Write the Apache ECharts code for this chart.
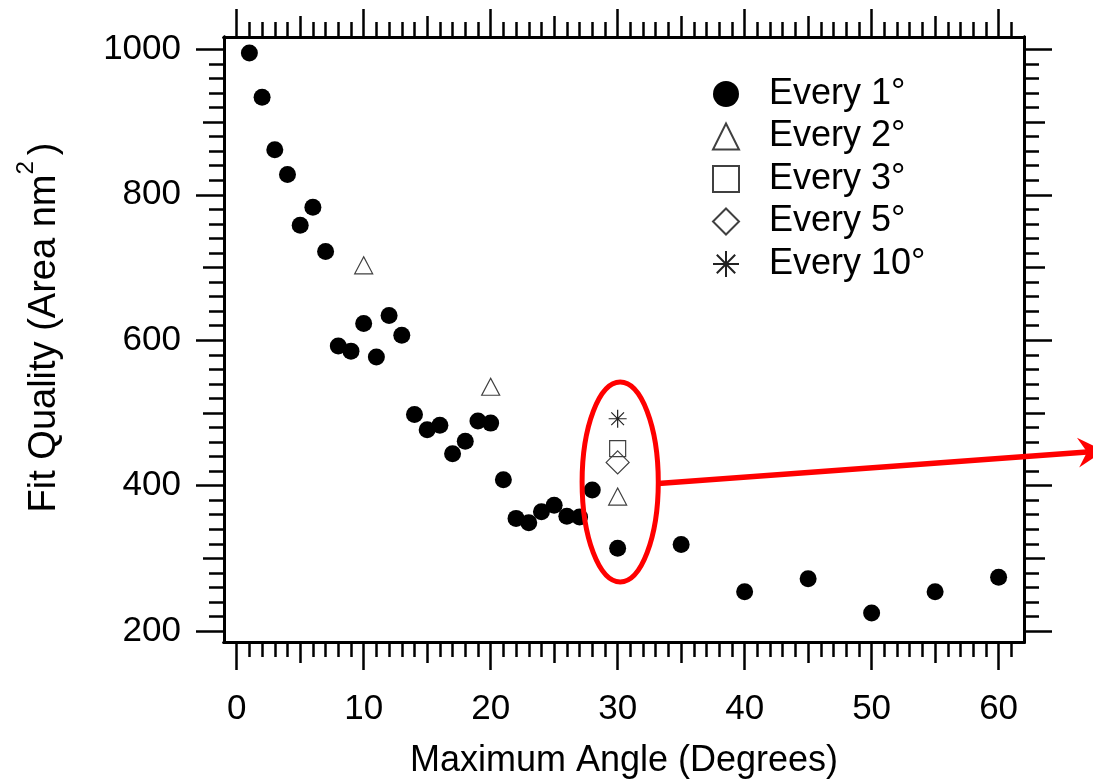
<!DOCTYPE html>
<html><head><meta charset="utf-8">
<script src="https://cdn.jsdelivr.net/npm/echarts@6/dist/echarts.min.js"></script>
<style>html,body{margin:0;padding:0;background:#fff}#c{width:1093px;height:779px}</style>
</head><body><div id="c"></div>
<script>
// ---- data ----
const every1X = [1,2,3,4,5,6,7,8,9,10,11,12,13,14,15,16,17,18,19,20,21,22,23,24,25,26,27,28,30,35,40,45,50,55,60];
const every1Y = [995,934,862,828,758,783,722,592,585,623,577,634,607,498,477,483,444,461,489,486,408,355,349,364,373,358,357,394,314,319,254,272,225,254,274];
const every2X = [10,20,30];
const every2Y = [703,536,385];
const every3X = [30];
const every3Y = [451];
const every5X = [30];
const every5Y = [432];
const every10X = [30];
const every10Y = [492];
const seriesNames = ['Every 1°','Every 2°','Every 3°','Every 5°','Every 10°'];
const xLabelTicks = [0,10,20,30,40,50,60];
const xMidTicks = [5,15,25,35,45,55];
const yLabelTicks = [200,400,600,800,1000];
const yMidTicks = [300,500,700,900];
const xName = 'Maximum Angle (Degrees)';
const yName = '{a|Fit Quality (Area nm}{s|2}{p|)}';

const FONT = "'Liberation Sans', Arial, sans-serif";
const xMin = -1, xMax = 62, yMin = 185, yMax = 1017;

const xMinor = [];
for (let v = 1; v <= 61; v++) if (v % 5 !== 0) xMinor.push(v);
const yMinor = [];
for (let v = 200; v <= 1000; v += 20) if (v % 100 !== 0) yMinor.push(v);

const pairs = (xs, ys) => xs.map((x, i) => [x, ys[i]]);

function axis(kind, pos, ticks, len, labels, name) {
  const a = {
    type: 'value', position: pos, min: kind === 'x' ? xMin : yMin, max: kind === 'x' ? xMax : yMax,
    splitLine: { show: false },
    axisLine: { show: true, onZero: false, lineStyle: { color: '#000', width: 3 } },
    axisTick: { show: true, inside: false, customValues: ticks, length: len, lineStyle: { color: '#000', width: 2.5 } },
    axisLabel: labels ? {
      show: true, customValues: labels, color: '#000', fontFamily: FONT, fontSize: 35,
      margin: kind === 'x' ? 50 : 43, formatter: v => String(v)
    } : { show: false }
  };
  if (name) Object.assign(a, name);
  return a;
}

const chart = echarts.init(document.getElementById('c'), null, { renderer: 'canvas' });

const hollow = { color: 'transparent', borderColor: '#404040', borderWidth: 1.2, opacity: 1 };
const asterisk = 'path://M10,0L10,20M0,10L20,10M2.93,2.93L17.07,17.07M17.07,2.93L2.93,17.07M11,10A1,1,0,1,1,9,10A1,1,0,1,1,11,10Z';

chart.setOption({
  animation: false,
  backgroundColor: '#fff',
  grid: { left: 224, right: 69, top: 37, bottom: 137, containLabel: false, outerBoundsMode: 'none' },
  xAxis: [
    axis('x', 'bottom', xLabelTicks, 28, xLabelTicks, {
      name: xName, nameLocation: 'middle', nameGap: 101,
      nameTextStyle: { color: '#000', fontFamily: FONT, fontSize: 36 }
    }),
    axis('x', 'bottom', xMidTicks, 21),
    axis('x', 'bottom', xMinor, 15),
    axis('x', 'top', xLabelTicks, 28),
    axis('x', 'top', xMidTicks, 21),
    axis('x', 'top', xMinor, 15)
  ],
  yAxis: [
    axis('y', 'left', yLabelTicks, 28, yLabelTicks, {
      name: yName, nameLocation: 'middle', nameGap: 160, nameRotate: 90,
      nameTextStyle: {
        color: '#000', fontFamily: FONT, fontSize: 38, padding: [0, 0, 0, 24],
        rich: {
          a: { fontFamily: FONT, fontSize: 38, color: '#000', lineHeight: 50, verticalAlign: 'bottom' },
          s: { fontFamily: FONT, fontSize: 24, color: '#000', lineHeight: 24, verticalAlign: 'top' },
          p: { fontFamily: FONT, fontSize: 38, color: '#000', lineHeight: 50, verticalAlign: 'bottom', padding: [0, 0, 0, 6] }
        }
      }
    }),
    axis('y', 'left', yMidTicks, 21),
    axis('y', 'left', yMinor, 15),
    axis('y', 'right', yLabelTicks, 28),
    axis('y', 'right', yMidTicks, 21),
    axis('y', 'right', yMinor, 15)
  ],
  legend: {
    orient: 'vertical', left: 707, top: 71,
    itemWidth: 26, itemHeight: 26, itemGap: 6.5,
    data: seriesNames,
    textStyle: { color: '#000', fontFamily: FONT, fontSize: 36, lineHeight: 34, padding: [0, 0, 0, 25] }
  },
  series: [
    { name: seriesNames[0], type: 'scatter', symbol: 'circle', symbolSize: 17,
      itemStyle: { color: '#000', opacity: 1 }, data: pairs(every1X, every1Y) },
    { name: seriesNames[1], type: 'scatter', symbol: 'triangle', symbolSize: [18, 17],
      itemStyle: hollow, data: pairs(every2X, every2Y) },
    { name: seriesNames[2], type: 'scatter', symbol: 'rect', symbolSize: 16,
      itemStyle: hollow, data: pairs(every3X, every3Y) },
    { name: seriesNames[3], type: 'scatter', symbol: 'diamond', symbolSize: 23,
      itemStyle: hollow, data: pairs(every5X, every5Y) },
    { name: seriesNames[4], type: 'scatter', symbol: asterisk, symbolSize: 18,
      itemStyle: { color: '#111', borderColor: '#222', borderWidth: 1.2, opacity: 1 }, data: pairs(every10X, every10Y) }
  ]
});

// ---- red annotation: ellipse round the x = 30 points and an arrow leaving the plot ----
const ellC = chart.convertToPixel({ xAxisIndex: 0, yAxisIndex: 0 }, [30.2, 405]);
const ellE = chart.convertToPixel({ xAxisIndex: 0, yAxisIndex: 0 }, [33.2, 542.5]);
const rx = ellE[0] - ellC[0], ry = ellC[1] - ellE[1];
const arrS = chart.convertToPixel({ xAxisIndex: 0, yAxisIndex: 0 }, [33.2, 403]);
const arrE = chart.convertToPixel({ xAxisIndex: 0, yAxisIndex: 0 }, [68.3, 448]);
const dx = arrE[0] - arrS[0], dy = arrE[1] - arrS[1], dl = Math.hypot(dx, dy);
const ux = dx / dl, uy = dy / dl, nx = -uy, ny = ux;
const L = 26, W = 15, notch = 9;
const head = [
  arrE,
  [arrE[0] - L * ux + W * nx, arrE[1] - L * uy + W * ny],
  [arrE[0] - (L - notch) * ux, arrE[1] - (L - notch) * uy],
  [arrE[0] - L * ux - W * nx, arrE[1] - L * uy - W * ny]
];
chart.setOption({
  graphic: [
    { type: 'ellipse', shape: { cx: ellC[0], cy: ellC[1], rx: rx, ry: ry },
      style: { fill: 'none', stroke: '#ff0000', lineWidth: 5 }, z: 100 },
    { type: 'line', shape: { x1: arrS[0], y1: arrS[1], x2: arrE[0] - (L - notch) * ux, y2: arrE[1] - (L - notch) * uy },
      style: { stroke: '#ff0000', lineWidth: 5.5 }, z: 100 },
    { type: 'polygon', shape: { points: head }, style: { fill: '#ff0000' }, z: 100 }
  ]
});
</script>
</body></html>
